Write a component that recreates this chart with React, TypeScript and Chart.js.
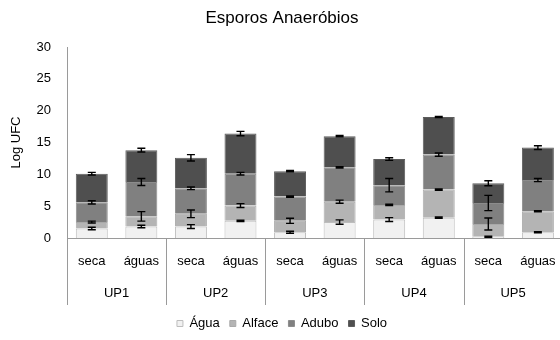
import { useEffect, useRef } from 'react';
import { Chart, registerables } from 'chart.js';

Chart.register(...registerables);

const FONT = "'Liberation Sans', Arial, sans-serif";

// Sampling season for each bar, and the production unit each pair belongs to
const seasons = ['seca', 'águas', 'seca', 'águas', 'seca', 'águas', 'seca', 'águas', 'seca', 'águas'];
const units = ['UP1', 'UP2', 'UP3', 'UP4', 'UP5'];
const yTicks = [0, 5, 10, 15, 20, 25, 30];

// Stacked segment heights (Log UFC) per source
const agua = [1.5, 1.8, 1.8, 2.7, 0.9, 2.5, 2.9, 3.2, 0.2, 0.9];
const alface = [1.0, 1.6, 2.0, 2.4, 1.8, 3.2, 2.3, 4.4, 2.0, 3.3];
const adubo = [3.1, 5.4, 4.0, 5.0, 3.8, 5.4, 3.1, 5.5, 3.3, 4.9];
const solo = [4.5, 5.0, 4.8, 6.3, 4.0, 4.9, 4.1, 5.9, 3.1, 5.1];

// Standard deviations, drawn at the top of each segment
const aguaErr = [0.2, 0.2, 0.3, 0.1, 0.15, 0.35, 0.3, 0.1, 0.1, 0.1];
const alfaceErr = [0.15, 0.75, 0.6, 0.3, 0.4, 0.25, 0.1, 0.1, 0.95, 0.1];
const aduboErr = [0.25, 0.55, 0.2, 0.2, 0.1, 0.1, 1.05, 0.25, 1.2, 0.25];
const soloErr = [0.2, 0.3, 0.5, 0.35, 0.1, 0.1, 0.2, 0.1, 0.4, 0.3];

const seriesNames = ['Água', 'Alface', 'Adubo', 'Solo'];
const seriesValues = [agua, alface, adubo, solo];
const seriesErrors = [aguaErr, alfaceErr, aduboErr, soloErr];
const fills = ['#f1f1f1', '#b4b4b4', '#808080', '#4f4f4f'];
const borders = ['#bdbdbd', '#a9a9a9', '#8c8c8c', '#5c5c5c'];

const AXIS_COLOR = '#9a9a9a';
const GROUP_BOTTOM = 305;

const errorBars = {
  id: 'errorBars',
  afterDatasetsDraw(chart: any) {
    const { ctx } = chart;
    const y = chart.scales.y;
    ctx.save();
    ctx.strokeStyle = '#000';
    ctx.lineWidth = 1.4;
    seriesValues.forEach((_, di) => {
      const meta = chart.getDatasetMeta(di);
      meta.data.forEach((el: any, j: number) => {
        let top = 0;
        for (let k = 0; k <= di; k++) top += seriesValues[k][j];
        const err = seriesErrors[di][j];
        const yHi = y.getPixelForValue(top + err);
        const yLo = y.getPixelForValue(top - err);
        const x = el.x;
        const cap = 4;
        ctx.beginPath();
        ctx.moveTo(x, yHi);
        ctx.lineTo(x, yLo);
        ctx.moveTo(x - cap, yHi);
        ctx.lineTo(x + cap, yHi);
        ctx.moveTo(x - cap, yLo);
        ctx.lineTo(x + cap, yLo);
        ctx.stroke();
      });
    });
    ctx.restore();
  },
};

// Second row of category labels (UP1..UP5) with separators between the pairs
const groupAxis = {
  id: 'groupAxis',
  afterDraw(chart: any) {
    const { ctx, chartArea } = chart;
    const x = chart.scales.x;
    const bottom = chartArea.bottom;
    ctx.save();
    ctx.strokeStyle = AXIS_COLOR;
    ctx.lineWidth = 1;
    for (let g = 0; g <= units.length; g++) {
      let px: number;
      if (g === 0) px = chartArea.left;
      else if (g === units.length) px = chartArea.right;
      else px = (x.getPixelForValue(g * 2 - 1) + x.getPixelForValue(g * 2)) / 2;
      px = Math.round(px) + 0.5;
      ctx.beginPath();
      ctx.moveTo(px, bottom);
      ctx.lineTo(px, GROUP_BOTTOM);
      ctx.stroke();
    }
    ctx.fillStyle = '#000';
    ctx.font = `13px ${FONT}`;
    ctx.textAlign = 'center';
    ctx.textBaseline = 'middle';
    units.forEach((u, g) => {
      const cx = (x.getPixelForValue(g * 2) + x.getPixelForValue(g * 2 + 1)) / 2;
      ctx.fillText(u, cx, 293);
    });
    ctx.restore();
  },
};

export default function App() {
  const ref = useRef<HTMLCanvasElement>(null);

  useEffect(() => {
    if (!ref.current) return;
    const chart = new Chart(ref.current, {
      type: 'bar',
      data: {
        labels: seasons,
        datasets: seriesNames.map((name, i) => ({
          label: name,
          data: seriesValues[i],
          backgroundColor: fills[i],
          borderColor: borders[i],
          borderWidth: 1,
          barPercentage: 0.645,
          categoryPercentage: 1,
        })),
      },
      options: {
        responsive: false,
        animation: false,
        devicePixelRatio: 1,
        layout: { padding: { left: 0, right: 8, top: 0, bottom: 0 } },
        scales: {
          x: {
            stacked: true,
            grid: { display: false, drawTicks: false },
            border: { display: true, color: AXIS_COLOR, width: 1 },
            ticks: {
              color: '#000',
              font: { size: 13, family: FONT },
              padding: 16,
              maxRotation: 0,
              autoSkip: false,
            },
            afterFit(scale: any) {
              scale.height = 69;
            },
          },
          y: {
            stacked: true,
            min: 0,
            max: 30,
            afterBuildTicks(scale: any) {
              scale.ticks = yTicks.map((v) => ({ value: v }));
            },
            grid: { display: false, drawTicks: false },
            border: { display: true, color: AXIS_COLOR, width: 1 },
            ticks: {
              color: '#000',
              font: { size: 13, family: FONT },
              padding: 16,
            },
            title: {
              display: true,
              text: 'Log UFC',
              color: '#000',
              font: { size: 13, family: FONT },
              padding: { top: 9, bottom: 0 },
            },
            afterFit(scale: any) {
              scale.width = 67;
            },
          },
        },
        plugins: {
          title: {
            display: true,
            text: 'Esporos Anaeróbios',
            color: '#000',
            font: { size: 17, weight: 'normal', family: FONT },
            padding: { top: 8, bottom: 18.6 },
          },
          legend: {
            position: 'bottom',
            labels: {
              boxWidth: 6,
              boxHeight: 6,
              padding: 10,
              color: '#000',
              font: { size: 13, family: FONT },
            },
          },
          tooltip: { enabled: false },
        },
      },
      plugins: [errorBars, groupAxis],
    });
    return () => chart.destroy();
  }, []);

  return (
    <div
      style={{
        position: 'absolute',
        left: 0,
        top: 0,
        width: 560,
        height: 340,
        overflow: 'hidden',
        background: '#fff',
      }}
    >
      <canvas ref={ref} width={572} height={340} style={{ display: 'block' }} />
    </div>
  );
}
